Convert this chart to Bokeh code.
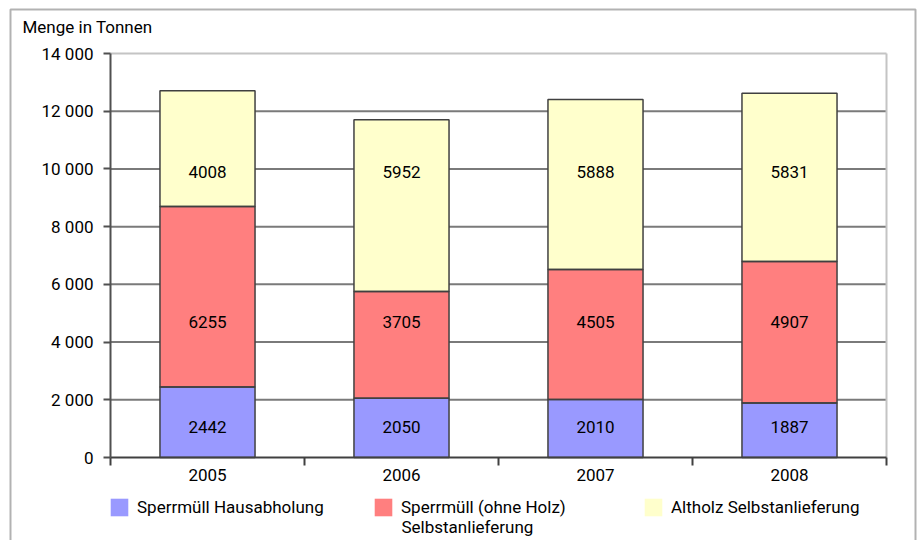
from bokeh.plotting import figure
from bokeh.models import (ColumnDataSource, Range1d, FixedTicker, LabelSet, Legend,
                          LegendItem, Label, BoxAnnotation)
from bokeh.embed import file_html
from bokeh.resources import INLINE
from bokeh.core.properties import value

# ---- data ----
years = ["2005", "2006", "2007", "2008"]
hausabholung = [2442, 2050, 2010, 1887]
sperrmuell_selbst = [6255, 3705, 4505, 4907]
altholz_selbst = [4008, 5952, 5888, 5831]
series_names = ["Sperrmüll Hausabholung", "Sperrmüll (ohne Holz)\nSelbstanlieferung",
                "Altholz Selbstanlieferung"]
y_ticks = [0, 2000, 4000, 6000, 8000, 10000, 12000, 14000]
y_tick_labels = ["0", "2 000", "4 000", "6 000", "8 000", "10 000", "12 000", "14 000"]
y_title = "Menge in Tonnen"

# label heights (data units) used in the original chart for the value labels
label_y_haus = [1040] * 4
label_y_sperr = [4680] * 4
label_y_alt = [9900] * 4

# ---- layout (pixels) ----
W, H = 918, 540
PX_L, PX_R, PX_T, PX_B = 110, 886, 53, 457
Y_MAX = y_ticks[-1]
N = len(years)
ux = (PX_R - PX_L) / N           # px per category
uy = (PX_B - PX_T) / Y_MAX       # px per tonne

FONT = "Roboto"
FS = "17px"
colors = ["#9999FF", "#FF7F7F", "#FFFFCC"]

xs = [i + 0.5 for i in range(N)]
source = ColumnDataSource(dict(
    x=xs, haus=hausabholung, sperr=sperrmuell_selbst, alt=altholz_selbst,
    haus_t=[str(v) for v in hausabholung], sperr_t=[str(v) for v in sperrmuell_selbst],
    alt_t=[str(v) for v in altholz_selbst],
    ly_h=label_y_haus, ly_s=label_y_sperr, ly_a=label_y_alt,
))

p = figure(width=W, height=H, output_backend="svg", toolbar_location=None,
           x_range=Range1d(-PX_L / ux, (W - PX_L) / ux),
           y_range=Range1d(-(H - PX_B) / uy, PX_B / uy),
           min_border=0)
p.background_fill_color = "white"
p.border_fill_color = "white"
p.outline_line_color = None
p.xgrid.visible = False
p.ygrid.visible = False

# grid lines and plot-area border
inner = [t for t in y_ticks if 0 < t < Y_MAX]
p.segment(x0=[0] * len(inner), x1=[N] * len(inner), y0=inner, y1=inner,
          line_color="#7a7a7a", line_width=2, level="underlay")
p.segment(x0=[0, N], x1=[N, N], y0=[Y_MAX, 0], y1=[Y_MAX, Y_MAX],
          line_color="#c4c4c4", line_width=2, level="underlay")

stackers = ["haus", "sperr", "alt"]
# fills (also used for the legend swatches, which have no outline)
fills = p.vbar_stack(stackers, x="x", width=0.49, source=source,
                     fill_color=colors, line_color=None)
# outlines on top
p.vbar_stack(stackers, x="x", width=0.49, source=source,
             fill_color=None, line_color="#404040", line_width=1.5)

# axes
p.yaxis.fixed_location = 0
p.yaxis.bounds = (0, Y_MAX)
p.yaxis.ticker = FixedTicker(ticks=y_ticks)
p.yaxis.major_label_overrides = {t: l for t, l in zip(y_ticks, y_tick_labels)}
p.yaxis.major_tick_out = 7
p.yaxis.major_tick_in = 0
p.yaxis.minor_tick_out = 0
p.yaxis.minor_tick_in = 0
p.yaxis.axis_line_color = "#505050"
p.yaxis.axis_line_width = 2
p.yaxis.major_tick_line_color = "#505050"
p.yaxis.major_tick_line_width = 2
p.yaxis.major_label_text_font = FONT
p.yaxis.major_label_text_font_size = FS
p.yaxis.major_label_text_color = "black"
p.yaxis.major_label_standoff = 10

p.xaxis.fixed_location = 0
p.xaxis.bounds = (0, N)
p.xaxis.ticker = FixedTicker(ticks=xs, minor_ticks=list(range(N + 1)))
p.xaxis.major_label_overrides = {x: y for x, y in zip(xs, years)}
p.xaxis.major_tick_out = 0
p.xaxis.major_tick_in = 0
p.xaxis.minor_tick_out = 8
p.xaxis.minor_tick_in = 0
p.xaxis.minor_tick_line_color = "#404040"
p.xaxis.minor_tick_line_width = 2
p.xaxis.axis_line_color = "#404040"
p.xaxis.axis_line_width = 2
p.xaxis.major_label_text_font = FONT
p.xaxis.major_label_text_font_size = FS
p.xaxis.major_label_text_color = "black"
p.xaxis.major_label_standoff = 3

# value labels
for col, ycol in (("haus_t", "ly_h"), ("sperr_t", "ly_s"), ("alt_t", "ly_a")):
    p.add_layout(LabelSet(x="x", y=ycol, text=col, source=source, text_align="center",
                          text_baseline="middle", text_font=value(FONT),
                          text_font_size=FS, text_color="black"))

# legends
leg_x = [108, 372, 642]
leg_bottom = 518
for r, name, lx in zip(fills, series_names, leg_x):
    first = name.split("\n")[0]
    lg = Legend(items=[LegendItem(label=first, renderers=[r])],
                location=(lx, H - leg_bottom),
                orientation="horizontal", glyph_width=22, glyph_height=22,
                label_standoff=7, padding=0, margin=0, spacing=0,
                border_line_alpha=0, background_fill_alpha=0,
                label_text_font=FONT, label_text_font_size=FS,
                label_text_color="black")
    p.add_layout(lg)

second_line = series_names[1].split("\n")[1]
p.add_layout(Label(x=leg_x[1] + 29, y=H - 526, x_units="screen", y_units="screen",
                   text=second_line, text_font=FONT, text_font_size=FS,
                   text_color="black", text_baseline="middle"))

# title
p.add_layout(Label(x=22, y=H - 26, x_units="screen", y_units="screen", text=y_title,
                   text_font=FONT, text_font_size=FS, text_color="black",
                   text_baseline="middle"))

# outer frame
p.add_layout(BoxAnnotation(left=10, right=915, top=H - 9, bottom=-50,
                           left_units="screen", right_units="screen",
                           top_units="screen", bottom_units="screen",
                           fill_alpha=0, line_color="black", line_width=2))

open("out.html", "w").write(file_html(p, INLINE))
